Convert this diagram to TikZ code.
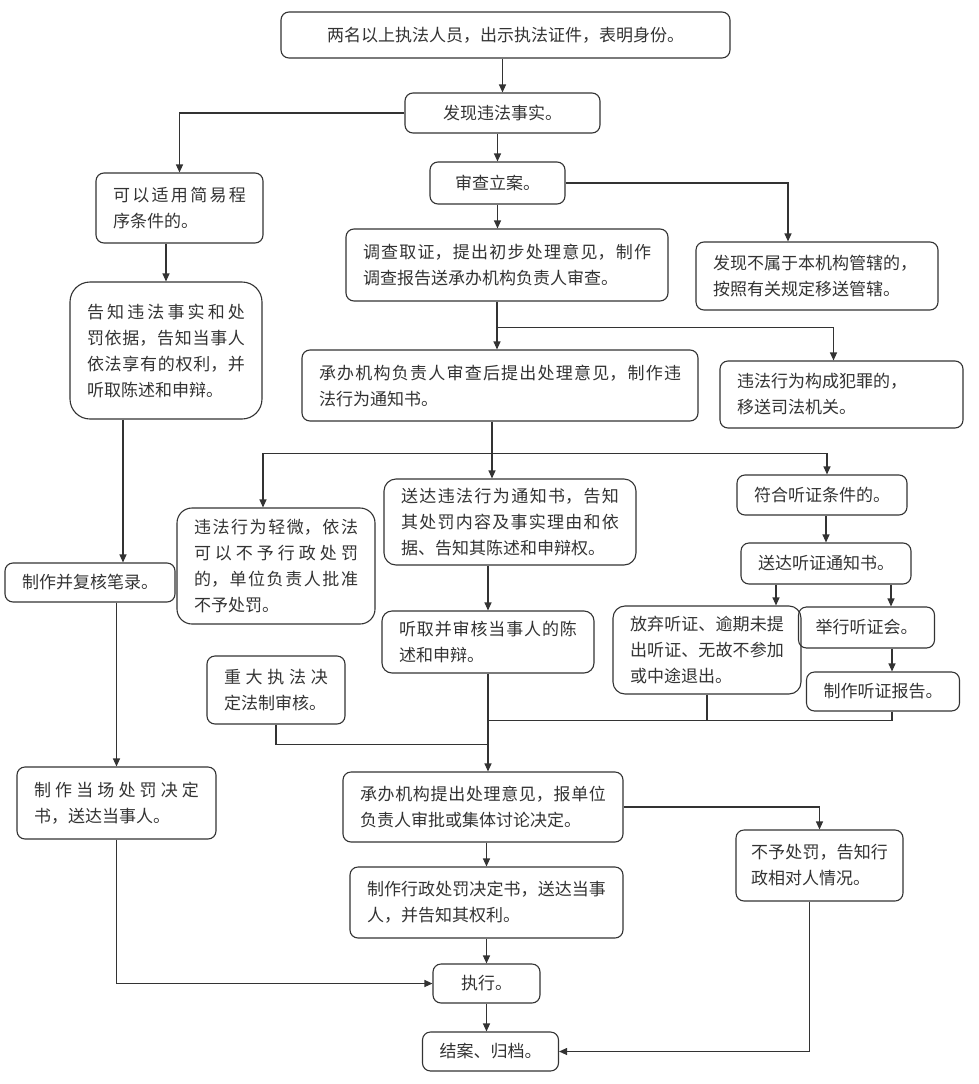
\documentclass[tikz,border=0pt]{standalone}
\usepackage{fontspec}
\setmainfont{Noto Sans CJK SC}
\usetikzlibrary{arrows.meta}
\XeTeXlinebreaklocale "zh"
\XeTeXlinebreakskip=0pt plus 5pt
\tikzset{
  stepbox/.style={draw, rounded corners=8pt, inner xsep=17pt, inner ysep=0pt,
    font=\fontsize{17}{26}\selectfont},
  textbox/.style={stepbox, align=justify}
}
\begin{document}
\begin{tikzpicture}[x=1pt, y=-1pt, line width=1.1pt, color=black!80,
    >={Triangle[width=7pt,length=8pt]}]
    \useasboundingbox (0,0) rectangle (978,1084);
    \node[stepbox, minimum width=449pt, minimum height=46pt] (idcard) at (505.5,35) {两名以上执法人员，出示执法证件，表明身份。};
    \node[stepbox, minimum width=195pt, minimum height=40pt] (discover) at (502.5,113) {发现违法事实。};
    \node[stepbox, minimum width=135pt, minimum height=42pt] (filing) at (497.5,183) {审查立案。};
    \node[textbox, text width=133pt, minimum height=70pt] (simple) at (179.5,208) {可以适用简易程\break 序条件的。};
    \node[textbox, text width=288pt, minimum height=72pt] (investigate) at (507,265) {调查取证，提出初步处理意见，制作\break 调查报告送承办机构负责人审查。};
    \node[textbox, text width=208pt, minimum height=68pt] (transfer) at (817,276) {发现不属于本机构管辖的，\\ 按照有关规定移送管辖。};
    \node[textbox, rounded corners=20pt, text width=158pt, minimum height=137pt] (inform) at (166,350.5) {告知违法事实和处\break 罚依据，告知当事人\break 依法享有的权利，并\break 听取陈述和申辩。};
    \node[textbox, text width=362pt, minimum height=71pt] (headreview) at (500,385.5) {承办机构负责人审查后提出处理意见，制作违\break 法行为通知书。};
    \node[textbox, text width=209pt, minimum height=67pt] (crime) at (841.5,394.5) {违法行为构成犯罪的，\\ 移送司法机关。};
    \node[textbox, rounded corners=15pt, text width=164pt, minimum height=116pt] (minor) at (276,566) {违法行为轻微，依法\break 可以不予行政处罚\break 的，单位负责人批准\break 不予处罚。};
    \node[textbox, rounded corners=12pt, text width=218pt, minimum height=86pt] (notice) at (510,522) {送达违法行为通知书，告知\break 其处罚内容及事实理由和依\break 据、告知其陈述和申辩权。};
    \node[stepbox, minimum width=166pt, minimum height=40pt] (hearcond) at (822,495) {符合听证条件的。};
    \node[stepbox, minimum width=166pt, minimum height=41pt] (hearnotice) at (826,563.5) {送达听证通知书。};
    \node[stepbox, minimum width=164pt, minimum height=39pt] (record) at (90,582.5) {制作并复核笔录。};
    \node[textbox, rounded corners=10pt, text width=178pt, minimum height=62pt] (listen) at (488,642) {听取并审核当事人的陈\break 述和申辩。};
    \node[textbox, rounded corners=12pt, text width=154pt, minimum height=88pt] (waive) at (707,650) {放弃听证、逾期未提\break 出听证、无故不参加\break 或中途退出。};
    \node[stepbox, minimum width=129pt, minimum height=41pt] (hearing) at (866.5,627.5) {举行听证会。};
    \node[stepbox, minimum width=150pt, minimum height=39pt] (report) at (883,691.5) {制作听证报告。};
    \node[textbox, text width=104pt, minimum height=68pt] (major) at (276,690) {重大执法决\break 定法制审核。};
    \node[textbox, text width=165pt, minimum height=72pt] (onsite) at (116.5,803) {制作当场处罚决定\break 书，送达当事人。};
    \node[textbox, text width=246pt, minimum height=70pt] (decide) at (483,807) {承办机构提出处理意见，报单位\break 负责人审批或集体讨论决定。};
    \node[textbox, inner xsep=15pt, text width=137pt, minimum height=71pt] (nopenalty) at (819.5,865.5) {不予处罚，告知行\break 政相对人情况。};
    \node[textbox, text width=239pt, minimum height=71pt] (penalty) at (486.5,902.5) {制作行政处罚决定书，送达当事\break 人，并告知其权利。};
    \node[stepbox, minimum width=107pt, minimum height=39pt] (execute) at (486.5,983.5) {执行。};
    \node[stepbox, minimum width=125pt, minimum height=39pt] (archive) at (490.5,1051.5) {结案、归档。};

    \coordinate (j1) at ([xshift=-10pt,yshift=-26pt]investigate.south);
    \coordinate (j2) at ([xshift=-8pt,yshift=-32pt]headreview.south);
    \coordinate (j3) at ([yshift=-47pt]listen.south);
    \coordinate (j4) at ([yshift=-71pt]listen.south);

    \draw[->] (idcard.south -| discover.north) -- (discover.north);
    \draw[->] (discover.south -| filing.north) -- (filing.north);
    \draw[->] (discover.west) -| (simple.north);
    \draw[->] (simple.south -| inform.north) -- (inform.north);
    \draw[->] (filing.south) -- (filing.south |- investigate.north);
    \draw[->] (filing.east) -| ([xshift=-29pt]transfer.north);
    \draw[->] (investigate.south -| j1) -- (headreview.north -| j1);
    \draw[->] (j1) -| ([xshift=-8pt]crime.north);
    \draw[->] (headreview.south -| j2) -- (notice.north -| j2);
    \draw[->] (j2) -| ([xshift=-13pt]minor.north);
    \draw[->] (j2) -| ([xshift=5pt]hearcond.north);
    \draw[->] (hearcond.south -| hearnotice.north) -- (hearnotice.north);
    \draw[->] ([xshift=-50pt]hearnotice.south) -- ([xshift=-50pt]hearnotice.south |- waive.north);
    \draw[->] ([xshift=65pt]hearnotice.south) -- ([xshift=65pt]hearnotice.south |- hearing.north);
    \draw[->] ([xshift=9pt]report.north |- hearing.south) -- ([xshift=9pt]report.north);
    \draw[->] (notice.south -| listen.north) -- (listen.north);
    \draw[->] (listen.south) -- (listen.south |- decide.north);
    \draw (waive.south) |- (j3);
    \draw ([xshift=9pt]report.south) |- (j3);
    \draw (major.south) |- (j4);
    \draw[->] ([xshift=-43pt]inform.south) -- ([xshift=-43pt]inform.south |- record.north);
    \draw[->] (record.south -| onsite.north) -- (onsite.north);
    \draw[->] (onsite.south) |- (execute.west);
    \draw[->] (decide.south -| penalty.north) -- (penalty.north);
    \draw[->] (decide.east) -| (nopenalty.north);
    \draw[->] (penalty.south) -- (execute.north);
    \draw[->] (execute.south) -- (execute.south |- archive.north);
    \draw[->] ([xshift=-10pt]nopenalty.south) |- (archive.east);
\end{tikzpicture}
\end{document}
